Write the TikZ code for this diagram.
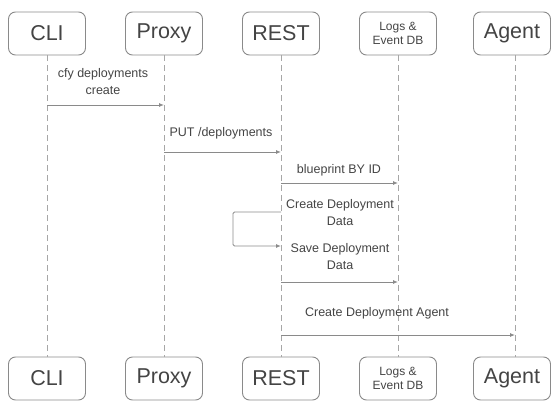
\documentclass[tikz,border=0pt]{standalone}
\usepackage{fontspec}
\setmainfont{Liberation Sans}
\usetikzlibrary{arrows.meta}
\definecolor{edge}{HTML}{8A8A8A}
\definecolor{ink}{HTML}{444444}
\tikzset{
  actor/.style={draw=edge, line width=0.9pt, rounded corners=7pt, minimum width=77pt, minimum height=43pt, text=ink, font=\fontsize{21.5}{23}\selectfont, inner sep=0pt, align=center},
  smallactor/.style={actor, font=\fontsize{12}{14}\selectfont},
  lifeline/.style={draw=edge!75, dash pattern=on 6pt off 4pt, line width=0.6pt},
  msg/.style={draw=edge, line width=0.9pt, -{Latex[length=5pt,width=4pt]}},
  lbl/.style={text=ink, font=\fontsize{12.5}{17}\selectfont, align=center, inner sep=1pt}
}
\begin{document}
\begin{tikzpicture}[x=1pt,y=-1pt]
\useasboundingbox (0,0) rectangle (551,412);
% participants, top row
\node[actor] (cliT) at (47,33.5) {CLI};
\node[actor] (proxyT) at (164,33.5) {Proxy};
\node[actor] (restT) at (281,33.5) {REST};
\node[smallactor] (logsT) at (398,33.5) {Logs \&\\Event DB};
\node[actor] (agentT) at (512,33.5) {Agent};
% participants, bottom row
\node[actor] (cliB) at (47,378.5) {CLI};
\node[actor] (proxyB) at (164,378.5) {Proxy};
\node[actor] (restB) at (281,378.5) {REST};
\node[smallactor] (logsB) at (398,378.5) {Logs \&\\Event DB};
\node[actor] (agentB) at (512,378.5) {Agent};
% lifelines (the Agent line runs a little right of its box centre)
\foreach \n in {cli,proxy,rest,logs}
  \draw[lifeline] (\n T.south) -- (\n B.north);
\draw[lifeline] ([xshift=3pt]agentT.south) -- ([xshift=3pt]agentB.north);
% message anchor points
\coordinate (m1a) at (47,105);  \coordinate (m1b) at (164,105);
\coordinate (m2a) at (164,152); \coordinate (m2b) at (281,152);
\coordinate (m3a) at (281,183); \coordinate (m3b) at (398,183);
\coordinate (s1) at (281,212);  \coordinate (s2) at (281,246);
\coordinate (m5a) at (281,282); \coordinate (m5b) at (398,282);
\coordinate (m6a) at (281,335); \coordinate (m6b) at (515,335);
% messages
\draw[msg] (m1a) -- (m1b);
\node[lbl] (l1) at (103,82) {cfy deployments\\create};
\draw[msg] (m2a) -- (m2b);
\node[lbl] (l2) at (221,133) {PUT /deployments};
\draw[msg] (m3a) -- (m3b);
\node[lbl] (l3) at (339,170) {blueprint BY ID};
\draw[msg, rounded corners=1.5pt] (s1) -- ++(-48,0) |- (s2);
\node[lbl] (l4) at (340,213) {Create Deployment\\Data};
\node[lbl] (l5) at (340,257) {Save Deployment\\Data};
\draw[msg] (m5a) -- (m5b);
\draw[msg] (m6a) -- (m6b);
\node[lbl] (l6) at (377,313) {Create Deployment Agent};
\end{tikzpicture}
\end{document}
